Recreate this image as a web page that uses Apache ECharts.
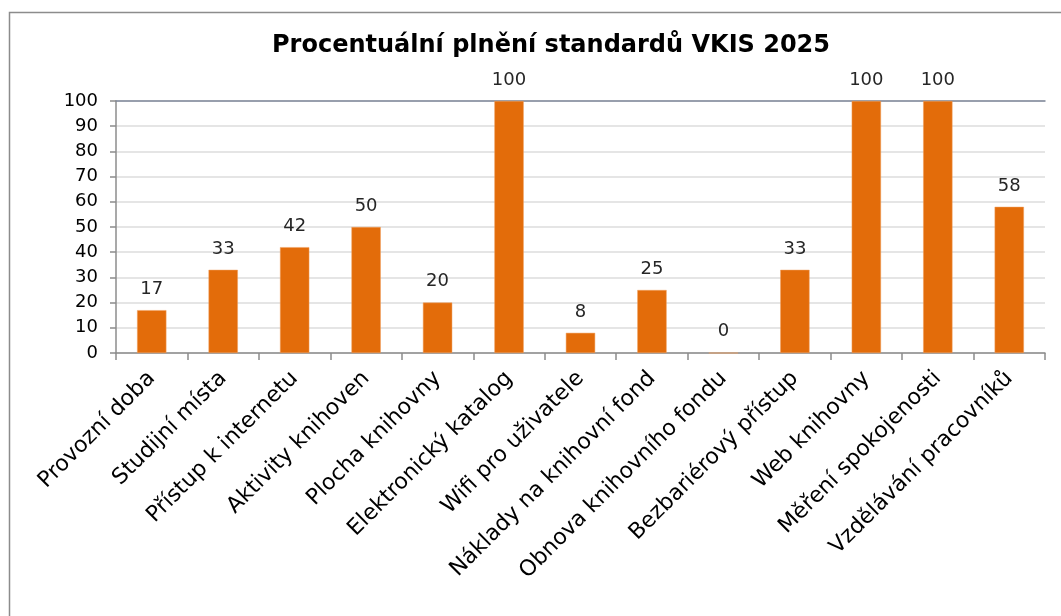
<!DOCTYPE html>
<html>
<head>
<meta charset="utf-8">
<script src="https://cdn.jsdelivr.net/npm/echarts@6/dist/echarts.min.js"></script>
<style>
  html, body { margin: 0; padding: 0; background: #fff; }
  #chart { width: 1061px; height: 616px; }
</style>
</head>
<body>
<div id="chart"></div>
<script>
// data
var categories = [
  'Provozní doba', 'Studijní místa', 'Přístup k internetu', 'Aktivity knihoven',
  'Plocha knihovny', 'Elektronický katalog', 'Wifi pro uživatele',
  'Náklady na knihovní fond', 'Obnova knihovního fondu', 'Bezbariérový přístup',
  'Web knihovny', 'Měření spokojenosti', 'Vzdělávání pracovníků'
];
var values = [17, 33, 42, 50, 20, 100, 8, 25, 0, 33, 100, 100, 58];
var yTicks = [0, 10, 20, 30, 40, 50, 60, 70, 80, 90, 100];

var FONT = 'DejaVu Sans';
var chart = echarts.init(document.getElementById('chart'));

var option = {
  animation: false,
  backgroundColor: '#fff',
  title: {
    text: 'Procentuální plnění standardů VKIS 2025',
    left: 546,
    textAlign: 'center',
    top: 29,
    textStyle: { fontFamily: FONT, fontSize: 24, fontWeight: 'bold', color: '#000' }
  },
  graphic: [{
    type: 'rect',
    shape: { x: 9.5, y: 12.5, width: 1070, height: 620 },
    style: { fill: 'none', stroke: '#8c8c8c', lineWidth: 1.5 },
    silent: true
  }],
  grid: { left: 116, right: 16, top: 101, bottom: 263 },
  xAxis: [{
    type: 'category',
    data: categories,
    axisLine: { lineStyle: { color: '#8c8c8c', width: 1.5 } },
    axisTick: { show: true, alignWithLabel: false, length: 7, lineStyle: { color: '#8c8c8c', width: 1.5 } },
    axisLabel: {
      interval: 0, rotate: 45, margin: 22,
      fontFamily: FONT, fontSize: 22, color: '#000'
    }
  }, {
    type: 'category',
    position: 'top',
    data: categories,
    axisLine: { lineStyle: { color: '#7f889a', width: 1.5 } },
    axisTick: { show: false },
    axisLabel: { show: false }
  }],
  yAxis: {
    type: 'value',
    min: yTicks[0],
    max: yTicks[yTicks.length - 1],
    interval: 10,
    axisLine: { show: true, lineStyle: { color: '#8c8c8c', width: 1.5 } },
    axisTick: { show: true, inside: false, length: 6, lineStyle: { color: '#8c8c8c', width: 1.5 } },
    axisLabel: { fontFamily: FONT, fontSize: 18, color: '#000', margin: 18 },
    splitLine: { show: true, lineStyle: { color: '#dcdcdc', width: 1.5 } }
  },
  series: [{
    type: 'bar',
    data: values,
    barWidth: '41%',
    itemStyle: { color: '#e36c0a', borderColor: '#f0a060', borderWidth: 0.5 },
    label: {
      show: true, position: 'top', distance: 12,
      fontFamily: FONT, fontSize: 18, color: '#262626'
    }
  }]
};
chart.setOption(option);
</script>
</body>
</html>
